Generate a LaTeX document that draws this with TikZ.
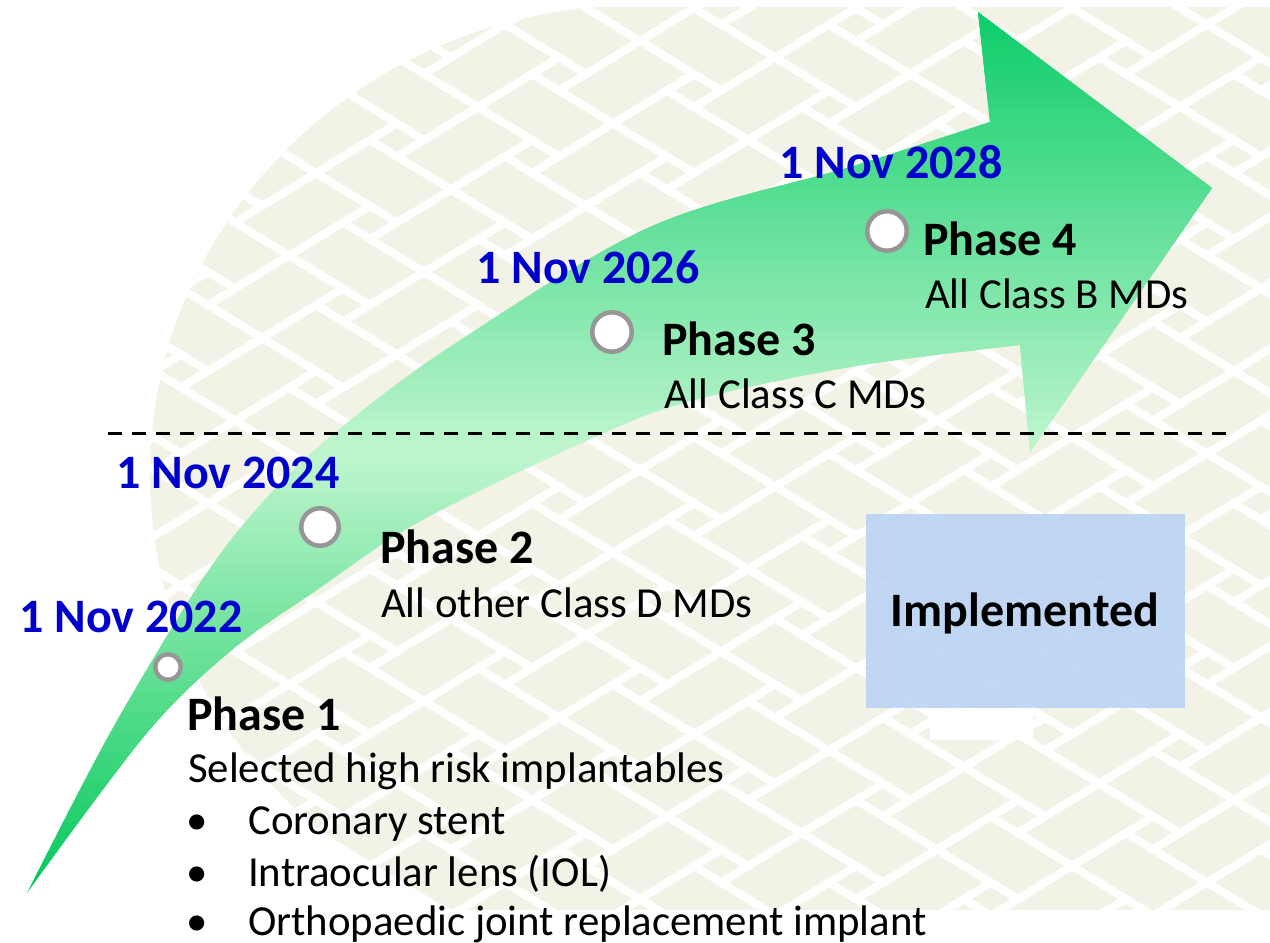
\documentclass[tikz,border=0pt]{standalone}
\usepackage{fontspec}
\setmainfont{Carlito}
\definecolor{beige}{RGB}{242,242,231}
\definecolor{dateblue}{RGB}{0,0,204}
\definecolor{ringgray}{RGB}{150,150,150}
\definecolor{arrowtop}{RGB}{10,204,104}
\definecolor{arrowmid}{RGB}{190,245,205}
\definecolor{arrowbot}{RGB}{0,200,88}
\definecolor{implblue}{RGB}{183,209,245}
% outline of the curved timeline arrow
\newcommand\arrowoutline{%
  plot[smooth, tension=0.55] coordinates {(27,893) (110,733) (200,583) (260,505) (330,437) (450,347) (650,227) (850,167) (990,122)}
  -- (978,12) -- (1212,188) -- (1030,452) -- (1020,345)
  -- plot[smooth, tension=0.55] coordinates {(1020,345) (850,367) (683,403) (577,445) (417,523) (317,590) (232,650) (147,733) (27,893)}
  -- cycle}
\begin{document}
\begin{tikzpicture}[x=1pt,y=1pt,yscale=-1,
  sayline/.style={white, line width=8pt, line cap=rect, line join=miter},
  datetxt/.style={anchor=base west, inner sep=0pt, text=dateblue, font=\fontsize{48}{57}\selectfont\bfseries},
  phasetxt/.style={anchor=base west, inner sep=0pt, font=\fontsize{48}{57}\selectfont\bfseries},
  bodytxt/.style={anchor=base west, inner sep=0pt, font=\fontsize{42.8}{51}\selectfont},
  milestone/.style={circle, draw=ringgray, fill=white, line width=4.5pt, inner sep=0pt},
  implbox/.style={rectangle, fill=implblue, fill opacity=0.85, minimum width=319pt, minimum height=194pt, inner sep=0pt},
  dashline/.style={black, line width=3pt, dash pattern=on 14pt off 10pt}]
\useasboundingbox (0,0) rectangle (1270,943);

% sayagata backdrop
\begin{scope}
  \clip (1270,7) -- (594.7,7) arc[start angle=-95.3, end angle=-247.7, x radius=490, y radius=470] -- (1270,910) -- cycle;
  \fill[beige] (0,0) rectangle (1270,943);
  \begin{scope}[shift={(640,470)}, x={(27pt,16.5pt)}, y={(-27pt,16.5pt)}]
    \foreach \i in {-12,...,12}{
      \foreach \j in {-12,...,12}{
        \pgfmathtruncatemacro\cx{2*\i-3*\j}
        \pgfmathtruncatemacro\cy{3*\i+2*\j}
        \draw[sayline] (\cx+2,\cy+1) -- ++(0,-1) -- ++(-4,0) -- ++(0,-1)
                       (\cx-1,\cy+2) -- ++(1,0) -- ++(0,-4) -- ++(1,0);
      }
    }
  \end{scope}
\end{scope}
\fill[white] (930,708) rectangle (1033,740);

% status box
\node[implbox] (impl) at (1025.5,611) {};

% curved timeline arrow, shaded in horizontal bands
\begin{scope}
  \clip \arrowoutline;
  \foreach \k in {0,...,44}{
    \pgfmathsetmacro\ya{12+\k*10}
    \pgfmathtruncatemacro\pc{min(100,\k*100/44)}
    \fill[arrowmid!\pc!arrowtop] (0,\ya-12) rectangle (1270,\ya+10.6);
  }
  \foreach \k in {0,...,44}{
    \pgfmathsetmacro\ya{452+\k*10}
    \pgfmathtruncatemacro\pc{min(100,\k*100/44)}
    \fill[arrowbot!\pc!arrowmid] (0,\ya) rectangle (1270,\ya+10.6);
  }
\end{scope}

% divider
\coordinate (dashL) at (108,433);
\coordinate (dashR) at (1230,433);
\draw[dashline] (dashL) -- (dashR);

% milestones
\node[milestone, minimum size=25.5pt] (m1) at (168,667) {};
\node[milestone, minimum size=37.5pt] (m2) at (320,527) {};
\node[milestone, minimum size=39.5pt] (m3) at (612,332) {};
\node[milestone, minimum size=39.5pt] (m4) at (887,231) {};

% dates
\node[datetxt] (d1) at (19,632) {1 Nov 2022};
\node[datetxt] (d2) at (116,488) {1 Nov 2024};
\node[datetxt] (d3) at (476,283) {1 Nov 2026};
\node[datetxt] (d4) at (779,178) {1 Nov 2028};

% phase 1
\node[phasetxt] (p1) at (187,730) {Phase 1};
\node[bodytxt] (p1a) at (188,782) {Selected high risk implantables};
\node[bodytxt, anchor=base] (b1) at (197,834) {\textbullet};
\node[bodytxt] (p1b) at (248,834) {Coronary stent};
\node[bodytxt, anchor=base] (b2) at (197,886) {\textbullet};
\node[bodytxt] (p1c) at (248,886) {Intraocular lens (IOL)};
\node[bodytxt, anchor=base] (b3) at (197,935) {\textbullet};
\node[bodytxt] (p1d) at (248,935) {Orthopaedic joint replacement implant};

% phase 2
\node[phasetxt] (p2) at (380,563) {Phase 2};
\node[bodytxt] (p2a) at (381,617) {All other Class D MDs};

% phase 3
\node[phasetxt] (p3) at (662,355) {Phase 3};
\node[bodytxt] (p3a) at (664,408) {All Class C MDs};

% phase 4
\node[phasetxt] (p4) at (923,255) {Phase 4};
\node[bodytxt] (p4a) at (925,308) {All Class B MDs};

\node[phasetxt, anchor=base] (impltxt) at (1025,626) {Implemented};
\end{tikzpicture}
\end{document}
